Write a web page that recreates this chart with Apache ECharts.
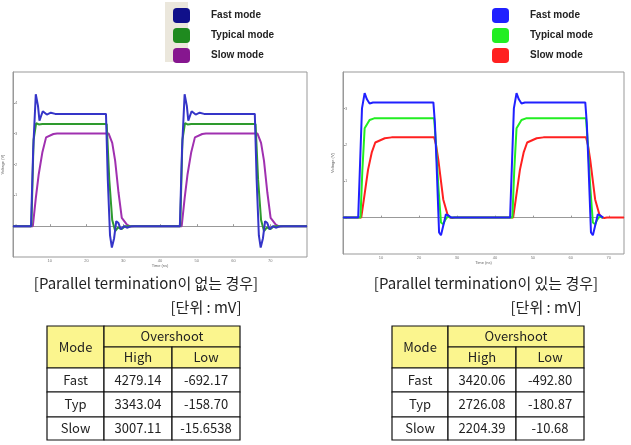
<!DOCTYPE html>
<html><head><meta charset="utf-8">
<script src="https://cdn.jsdelivr.net/npm/echarts@6/dist/echarts.min.js"></script>
<style>html,body{margin:0;padding:0;background:#fff}#c{width:631px;height:445px}</style>
</head><body><div id="c"></div>
<script>
var legendNames = ['Fast mode', 'Typical mode', 'Slow mode'];

// left: without parallel termination (time, mV)
var leftFast = [[0,0],[4.9,0],[5.5,2500],[6.2,4279],[6.8,3900],[7.2,3424],[8.1,3728],[9.2,3620],[10.3,3680],[11.5,3641],[25.3,3641],[25.8,1500],[26.4,-300],[26.9,-692],[27.5,-400],[28.1,160],[28.7,100],[29.3,-100],[30.2,0],[31,-50],[32.3,0],
  [45.4,0],[46,2500],[46.7,4279],[47.3,3900],[47.7,3424],[48.6,3728],[49.7,3620],[50.8,3680],[52,3641],[65.8,3641],[66.3,1500],[66.9,-300],[67.4,-692],[68,-400],[68.6,160],[69.2,100],[69.8,-100],[70.7,0],[71.5,-50],[72.8,0],[80,0]];
var leftTyp = [[0,0],[5,0],[5.6,2800],[6.3,3343],[7,3300],[8,3315],[25.5,3315],[26.2,1500],[27,200],[27.8,-158],[28.6,-40],[29.5,-100],[30.5,0],
  [45.5,0],[46.1,2800],[46.8,3343],[47.5,3300],[48.5,3315],[66,3315],[66.7,1500],[67.5,200],[68.3,-158],[69.1,-40],[70,-100],[71,0],[80,0]];
var leftSlow = [[0,0],[5.4,0],[6.2,900],[7,1685],[8,2400],[9,2880],[11,2990],[12,3007],[26,3007],[27,2700],[27.8,2120],[28.7,1100],[29.6,270],[31,50],[32,-15],[33,0],
  [45.9,0],[46.7,900],[47.5,1685],[48.5,2400],[49.5,2880],[51.5,2990],[52.5,3007],[66.5,3007],[67.5,2700],[68.3,2120],[69.2,1100],[70.1,270],[71.5,50],[72.5,-15],[73.5,0],[80,0]];

// right: with parallel termination
var rightFast = [[0,0],[4.0,0],[4.5,1500],[5.0,3000],[5.7,3420],[6.3,3250],[7.0,3136],[7.9,3164],[23.8,3164],[24.2,2600],[24.6,1590],[25.3,-409],[25.8,-482],[26.4,-227],[27.1,91],[27.7,60],[28.5,0],
  [44.0,0],[44.5,1500],[45.0,3000],[45.7,3420],[46.3,3250],[47.0,3136],[47.9,3164],[63.8,3164],[64.2,2600],[64.6,1590],[65.3,-409],[65.8,-482],[66.4,-227],[67.1,91],[67.7,60],[68.5,0]];
var rightTyp = [[0,0],[4.6,0],[5.1,1300],[5.7,2455],[7.0,2680],[8.2,2727],[24.0,2727],[24.5,2000],[25.1,864],[25.8,-136],[26.4,-181],[27.0,-50],[27.5,20],[28.5,0],
  [44.6,0],[45.1,1300],[45.7,2455],[47.0,2680],[48.2,2727],[64.0,2727],[64.5,2000],[65.1,864],[65.8,-136],[66.4,-181],[67.0,-50],[67.5,20],[68.5,0]];
var rightSlow = [[0,0],[4.8,0],[5.5,500],[6.6,1318],[7.6,1800],[8.5,2064],[11,2180],[12.8,2204],[24,2204],[24.5,2000],[25.1,1590],[25.8,1000],[26.4,500],[27.5,91],[28.2,0],[28.8,-11],[29.5,0],
  [44.8,0],[45.5,500],[46.6,1318],[47.6,1800],[48.5,2064],[51,2180],[52.8,2204],[64,2204],[64.5,2000],[65.1,1590],[65.8,1000],[66.4,500],[67.5,91],[68.2,0],[68.8,-11],[69.5,0],[74,0]];

var tableModes = ['Fast', 'Typ', 'Slow'];
var leftHigh = ['4279.14', '3343.04', '3007.11'];
var leftLow = ['-692.17', '-158.70', '-15.6538'];
var rightHigh = ['3420.06', '2726.08', '2204.39'];
var rightLow = ['-492.80', '-180.87', '-10.68'];

var leftColors = ['#3535c8', '#2e9a2e', '#a030b0'];
var leftIcons = ['#10108a', '#1f8a1f', '#86168f'];
var rightColors = ['#2020ff', '#22ee22', '#ff2020'];

var chart = echarts.init(document.getElementById('c'));

function axisPair(idx, xmax, ymin, ymax) {
  return {
    x: { type: 'value', gridIndex: idx, min: 0, max: xmax, interval: 10, name: 'Time (ns)', nameLocation: 'middle', nameGap: 6,
      nameTextStyle: { fontSize: 4, color: '#666' },
      axisLine: { lineStyle: { color: '#999' } }, axisTick: { length: 2, inside: true, lineStyle: { color: '#999' } },
      axisLabel: { fontSize: 4, color: '#777', margin: 2, showMinLabel: false, showMaxLabel: false }, splitLine: { show: false } },
    y: { type: 'value', gridIndex: idx, min: ymin, max: ymax, interval: 1000, name: 'Voltage (V)', nameLocation: 'middle', nameGap: 8,
      nameTextStyle: { fontSize: 4, color: '#666' },
      axisLine: { show: true, lineStyle: { color: '#999' } }, axisTick: { length: 2, inside: true, lineStyle: { color: '#999' } },
      axisLabel: { fontSize: 4, color: '#777', margin: 2, inside: true, showMinLabel: false, showMaxLabel: false,
        formatter: function (v) { return (v / 1000).toFixed(0); } }, splitLine: { show: false } }
  };
}
var a0 = axisPair(0, 80, -1000, 5000);
var a1 = axisPair(1, 74, -1000, 4000);

function line(name, data, color, idx) {
  return { name: name, type: 'line', xAxisIndex: idx, yAxisIndex: idx, data: data, showSymbol: false,
    lineStyle: { color: color, width: 2 }, itemStyle: { color: color }, animation: false };
}

function legendCfg(left, colors, names) {
  return {
    orient: 'vertical', left: left, top: 3, itemGap: 5, itemWidth: 17, itemHeight: 15, icon: 'roundRect',
    data: names.map(function (n, i) { return { name: n, itemStyle: { color: colors[i] } }; }),
    textStyle: { fontSize: 10, fontWeight: 'bold', color: '#222', padding: [0, 0, 0, 16], fontFamily: 'Liberation Sans' },
    selectedMode: false
  };
}

function table(colX, high, low) {
  var els = [];
  var rowY = [326, 347, 368, 392, 417, 440];
  var fill = '#fbf58e';
  var font = '13px "Noto Sans CJK KR", sans-serif';
  function cell(x1, y1, x2, y2, bg, txt) {
    els.push({ type: 'rect', shape: { x: x1, y: y1, width: x2 - x1, height: y2 - y1 },
      style: { fill: bg, stroke: '#111', lineWidth: 1.2 } });
    els.push({ type: 'text', x: (x1 + x2) / 2, y: (y1 + y2) / 2,
      style: { text: txt, font: font, fill: '#222', align: 'center', verticalAlign: 'middle' } });
  }
  cell(colX[0], rowY[0], colX[1], rowY[2], fill, 'Mode');
  cell(colX[1], rowY[0], colX[3], rowY[1], fill, 'Overshoot');
  cell(colX[1], rowY[1], colX[2], rowY[2], fill, 'High');
  cell(colX[2], rowY[1], colX[3], rowY[2], fill, 'Low');
  for (var i = 0; i < 3; i++) {
    cell(colX[0], rowY[i + 2], colX[1], rowY[i + 3], '#fff', tableModes[i]);
    cell(colX[1], rowY[i + 2], colX[2], rowY[i + 3], '#fff', high[i]);
    cell(colX[2], rowY[i + 2], colX[3], rowY[i + 3], '#fff', low[i]);
  }
  return els;
}

function caption(cx, y, txt) {
  return { type: 'text', x: cx, y: y, style: { text: txt, font: '15px "Noto Sans CJK KR", sans-serif', fill: '#222', align: 'center', verticalAlign: 'middle' } };
}

var graphics = [
  { type: 'rect', shape: { x: 165, y: 2, width: 23, height: 60 }, style: { fill: '#ebe7dc' }, z: -1 }
].concat(
  table([47, 104, 172, 240], leftHigh, leftLow),
  table([392, 448, 516, 584], rightHigh, rightLow),
  [caption(146, 283, '[Parallel termination이 없는 경우]'),
   caption(206, 307, '[단위 : mV]'),
   caption(486, 283, '[Parallel termination이 있는 경우]'),
   caption(546, 307, '[단위 : mV]')]
);

var option = {
  backgroundColor: '#fff',
  animation: false,
  legend: [legendCfg(168, leftIcons, legendNames), legendCfg(487, rightColors, legendNames.map(function (n) { return n + ' '; }))],
  grid: [
    { left: 13, top: 72, width: 294, height: 185, show: true, borderColor: '#999', borderWidth: 1 },
    { left: 343, top: 72, width: 281, height: 182, show: true, borderColor: '#999', borderWidth: 1 }
  ],
  xAxis: [a0.x, a1.x],
  yAxis: [a0.y, a1.y],
  series: [
    line(legendNames[2], leftSlow, leftColors[2], 0),
    line(legendNames[1], leftTyp, leftColors[1], 0),
    line(legendNames[0], leftFast, leftColors[0], 0),
    line(legendNames[2] + ' ', rightSlow, rightColors[2], 1),
    line(legendNames[1] + ' ', rightTyp, rightColors[1], 1),
    line(legendNames[0] + ' ', rightFast, rightColors[0], 1)
  ],
  graphic: graphics
};
chart.setOption(option);
</script>
</body></html>
